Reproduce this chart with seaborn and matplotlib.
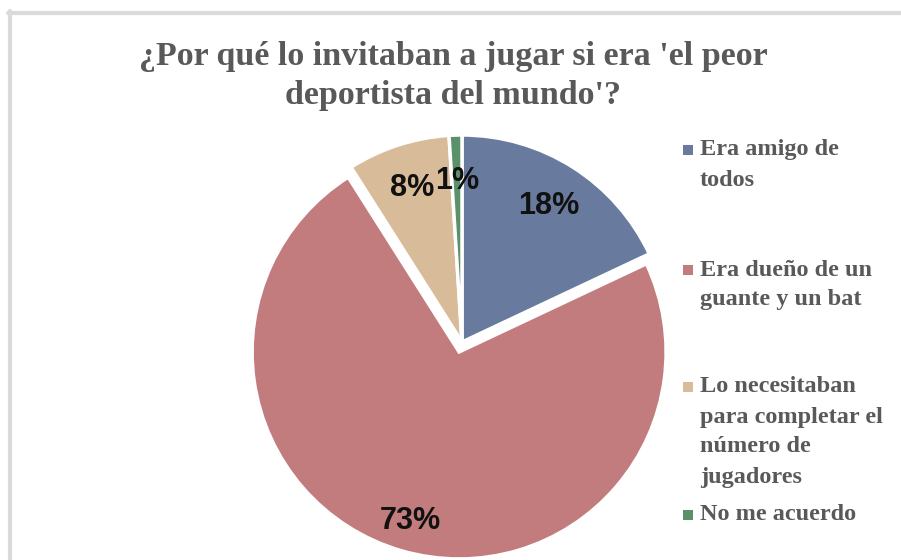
import matplotlib
matplotlib.use("Agg")
import matplotlib.pyplot as plt
from matplotlib.patches import Rectangle
from matplotlib.lines import Line2D
import seaborn as sns

# Survey answers and their shares (%)
categories = [
    "Era amigo de\ntodos",
    "Era dueño de un\nguante y un bat",
    "Lo necesitaban\npara completar el\nnúmero de\njugadores",
    "No me acuerdo",
]
shares = [18, 73, 8, 1]
colors = ["#687b9e", "#c27c7d", "#d8bc99", "#5b9168"]
title = "¿Por qué lo invitaban a jugar si era 'el peor\ndeportista del mundo'?"

sns.set_theme(style="white")
plt.rcParams["font.family"] = ["Liberation Sans", "DejaVu Sans"]

W, H, DPI = 901, 560, 100
fig = plt.figure(figsize=(W / DPI, H / DPI), dpi=DPI)
fig.patch.set_facecolor("white")

# pie axes placed in pixel units: centre and radius
cx, cy, r = 462, H - 342, 207
lim = 1.3
half = r * lim
ax = fig.add_axes([(cx - half) / W, (cy - half) / H, 2 * half / W, 2 * half / H])

explode = [0.05 if v == max(shares) else 0 for v in shares]
wedges, texts, autotexts = ax.pie(
    shares,
    colors=colors,
    startangle=90,
    counterclock=False,
    explode=explode,
    autopct=lambda p: f"{p:.0f}%",
    pctdistance=0.78,
    wedgeprops=dict(edgecolor="white", linewidth=2.5),
    textprops=dict(fontsize=22, fontweight="bold", color="#111111",
                   family=["Liberation Sans", "DejaVu Sans"]),
)
# push the big slice's label a bit further out
for v, w, t in zip(shares, wedges, autotexts):
    if v == max(shares):
        x, y = t.get_position()
        ox, oy = w.center
        t.set_position((ox + (x - ox) * 1.09, oy + (y - oy) * 1.09))
ax.set_xlim(-lim, lim)
ax.set_ylim(-lim, lim)
ax.set_aspect("equal")
ax.axis("off")

# title
fig.text(453 / W, 1 - 76 / H, title, ha="center", va="center",
         fontsize=24.5, fontweight="bold", color="#595959",
         family=["Liberation Serif", "DejaVu Serif"], linespacing=1.3)

# legend: square swatch beside the first line of each entry
first_line_y = [150, 270, 387, 515]
line_gap = 30
for label, col, y0 in zip(categories, colors, first_line_y):
    fig.patches.append(Rectangle(((683) / W, 1 - (y0 + 5) / H), 10 / W, 10 / H,
                                 transform=fig.transFigure, facecolor=col,
                                 edgecolor="none"))
    for i, line in enumerate(label.split("\n")):
        fig.text(700 / W, 1 - (y0 + i * line_gap) / H, line, ha="left", va="center",
                 fontsize=17.5, fontweight="bold", color="#595959",
                 family=["Liberation Serif", "DejaVu Serif"])

# chart frame (top and left edges)
frame_col = "#dadada"
fig.lines.append(Line2D([8 / W, 1], [1 - 13 / H, 1 - 13 / H], transform=fig.transFigure,
                        color=frame_col, linewidth=3))
fig.lines.append(Line2D([10 / W, 10 / W], [0, 1 - 11 / H], transform=fig.transFigure,
                        color=frame_col, linewidth=3))

fig.savefig("out.png", dpi=DPI, facecolor="white")
